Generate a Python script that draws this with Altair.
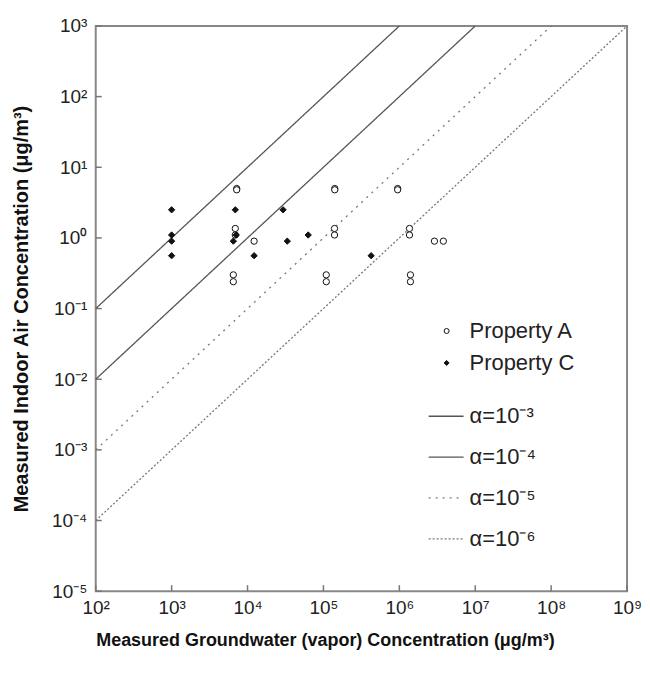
import json
import altair as alt
import pandas as pd

# ---- data ----
prop_a_x = [7200, 7200, 6900, 6900, 12200, 6500, 6500,
            141000, 141000, 140000, 140000, 109000, 109000,
            950000, 950000, 1360000, 1360000, 2900000, 3800000, 1400000, 1400000]
prop_a_y = [5.0, 4.8, 1.36, 1.1, 0.9, 0.30, 0.24,
            5.0, 4.8, 1.36, 1.1, 0.30, 0.24,
            5.0, 4.8, 1.36, 1.1, 0.9, 0.9, 0.30, 0.24]

prop_c_x = [1000, 1000, 1000, 1000, 6900, 7100, 6500, 29400, 12200, 33400, 63000, 425000]
prop_c_y = [2.5, 1.1, 0.9, 0.56, 2.5, 1.1, 0.9, 2.5, 0.56, 0.9, 1.1, 0.56]

series_names = ["Property A", "Property C"]

alpha_labels = ["α=10⁻³", "α=10⁻⁴", "α=10⁻⁵", "α=10⁻⁶"]
line_x_start = [1e2, 1e2, 1e2, 1e2]
line_y_start = [1e-1, 1e-2, 1e-3, 1e-4]
line_x_end = [1e6, 1e7, 1e8, 1e9]
line_y_end = [1e3, 1e3, 1e3, 1e3]

x_ticks = [1e2, 1e3, 1e4, 1e5, 1e6, 1e7, 1e8, 1e9]
x_tick_labels = ["10²", "10³", "10⁴", "10⁵", "10⁶", "10⁷", "10⁸", "10⁹"]
y_ticks = [1e-5, 1e-4, 1e-3, 1e-2, 1e-1, 1e0, 1e1, 1e2, 1e3]
y_tick_labels = ["10⁻⁵", "10⁻⁴", "10⁻³", "10⁻²", "10⁻¹", "10⁰", "10¹", "10²", "10³"]

x_title = "Measured Groundwater (vapor) Concentration (μg/m³)"
y_title = "Measured Indoor Air Concentration (μg/m³)"

# ---- tables ----
pts = pd.DataFrame({
    "gw": prop_a_x + prop_c_x,
    "ia": prop_a_y + prop_c_y,
    "prop": [series_names[0]] * len(prop_a_x) + [series_names[1]] * len(prop_c_x),
})

rows = []
for i, lab in enumerate(alpha_labels):
    rows.append({"gw": line_x_start[i], "ia": line_y_start[i], "alpha": lab})
    rows.append({"gw": line_x_end[i], "ia": line_y_end[i], "alpha": lab})
lines = pd.DataFrame(rows)

xt = pd.DataFrame({"gw": x_ticks})
yt = pd.DataFrame({"ia": y_ticks})

W, H = 533, 567
FONT = "Liberation Sans"

xscale = alt.Scale(type="log", domain=[1e2, 1e9], nice=False)
yscale = alt.Scale(type="log", domain=[1e-5, 1e3], nice=False)

x_expr = json.dumps(x_tick_labels, ensure_ascii=False) + "[round(log(datum.value)/LN10)-2]"
y_expr = json.dumps(y_tick_labels, ensure_ascii=False) + "[round(log(datum.value)/LN10)+5]"

x_axis = alt.Axis(values=x_ticks, labelExpr=x_expr, ticks=False, domain=False, grid=False,
                  labelFontSize=19, labelColor="#222", labelPadding=7, labelFlush=False,
                  labelOverlap=False, title=x_title, titleFontSize=18, titleFontWeight="bold",
                  titleColor="#111", titlePadding=14, titleAnchor="start")
y_axis = alt.Axis(values=y_ticks, labelExpr=y_expr, ticks=False, domain=False, grid=False,
                  labelFontSize=19, labelColor="#222", labelPadding=9, labelFlush=False,
                  labelOverlap=False, title=y_title, titleFontSize=20, titleFontWeight="bold",
                  titleColor="#111", titlePadding=20)

X = alt.X("gw:Q", scale=xscale, axis=x_axis)
Y = alt.Y("ia:Q", scale=yscale, axis=y_axis)

line_leg = alt.Legend(title=None, orient="none", legendX=333, legendY=373,
                      symbolType="stroke", symbolSize=1225, symbolStrokeWidth=1.3,
                      labelFontSize=22, labelFont=FONT, labelColor="#222",
                      labelOffset=5, rowPadding=11, padding=0)
pt_leg = alt.Legend(title=None, orient="none", legendX=341, legendY=295,
                    symbolSize=25, symbolStrokeWidth=1,
                    labelFontSize=22, labelFont=FONT, labelColor="#222",
                    labelOffset=12, rowPadding=10, padding=0)

line_layer = alt.Chart(lines).mark_line(strokeWidth=1.3).encode(
    x=X, y=Y,
    color=alt.Color("alpha:N", scale=alt.Scale(domain=alpha_labels,
                    range=["#555555", "#555555", "#777777", "#777777"]), legend=line_leg),
    strokeDash=alt.StrokeDash("alpha:N", scale=alt.Scale(domain=alpha_labels,
                    range=[[1, 0], [1, 0], [2, 5], [2, 2]]), legend=line_leg),
)

pt_layer = alt.Chart(pts).mark_point(filled=True, opacity=1, size=40, strokeWidth=1).encode(
    x=X, y=Y,
    shape=alt.Shape("prop:N", scale=alt.Scale(domain=series_names, range=["circle", "diamond"]),
                    legend=pt_leg),
    fill=alt.Fill("prop:N", scale=alt.Scale(domain=series_names, range=["white", "#111111"]),
                  legend=pt_leg),
    stroke=alt.Stroke("prop:N", scale=alt.Scale(domain=series_names, range=["#111111", "#111111"]),
                      legend=pt_leg),
)

ytick_layer = alt.Chart(yt).mark_rule(color="#777", strokeWidth=1.5).encode(
    y=Y, x=alt.value(0), x2=alt.value(6))
xtick_layer = alt.Chart(xt).mark_rule(color="#777", strokeWidth=1.5).encode(
    x=X, y=alt.value(H), y2=alt.value(H - 6))

chart = alt.layer(ytick_layer, xtick_layer, line_layer, pt_layer).properties(
    width=W, height=H,
    padding={"left": 3, "top": 8, "right": 0, "bottom": 5},
).configure(font=FONT).configure_view(stroke="#888", strokeWidth=2)

chart.save("out.html", embed_options={"renderer": "svg", "actions": False})
